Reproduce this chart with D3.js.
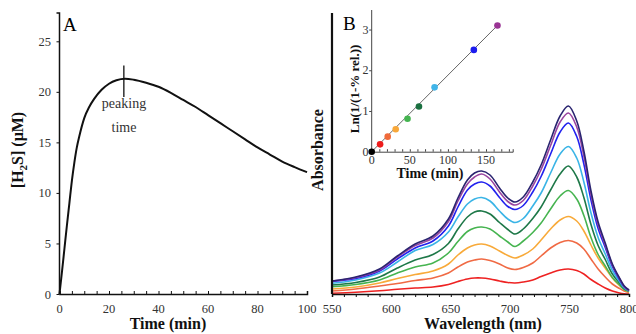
<!DOCTYPE html>
<html>
<head>
<meta charset="utf-8">
<script src="https://cdn.jsdelivr.net/npm/d3@7"></script>
<style>
  body { margin: 0; background: #fff; }
  svg, svg text { font-family: "Liberation Serif", "Times New Roman", "DejaVu Serif", serif; }
  .tick-label { font-size: 12.5px; fill: #333; }
  .axis-title { font-weight: bold; font-size: 16px; fill: #111; }
</style>
</head>
<body>
<svg id="viz" width="636" height="334" font-family="Liberation Serif, serif"></svg>
<script>
// Panel A: H2S release curve
const timeA = [0, 1, 2, 3, 4, 5, 6, 7, 8, 10, 12, 14, 17, 20, 23, 26.5, 30, 35, 40, 45, 50, 55, 60, 65, 70, 75, 80, 85, 90, 95, 100];
const h2sA  = [0, 2.2, 4.5, 6.8, 9.0, 11.2, 13.0, 14.5, 15.6, 17.4, 18.5, 19.3, 20.2, 20.8, 21.15, 21.3, 21.2, 20.9, 20.5, 19.9, 19.2, 18.5, 17.7, 16.9, 16.1, 15.3, 14.5, 13.8, 13.1, 12.55, 12.05];
const peakTime = 26;
const peakSpan = [19.5, 22.6];
const ticksA_y = [0, 5, 10, 15, 20, 25];
const ticksA_x = [0, 20, 40, 60, 80, 100];

// Panel B: absorbance spectra
const wavelengths = [550, 570, 590, 605, 620, 635, 648, 656, 664, 670, 676, 683, 691, 698, 704, 711, 719, 726, 734, 742, 749, 756, 762, 768, 774, 780, 786, 792, 796, 800];
const absRed    = [.003,.007,.013,.019,.024,.028,.038,.050,.060,.064,.064,.060,.052,.046,.044,.048,.056,.070,.084,.096,.100,.094,.080,.058,.040,.024,.012,.004,.001,.000];
const absCoral  = [.012,.020,.032,.042,.054,.064,.084,.108,.128,.136,.140,.134,.120,.104,.098,.106,.124,.152,.184,.206,.214,.204,.180,.140,.100,.068,.040,.022,.012,.006];
const absOrange = [.020,.028,.044,.062,.078,.092,.120,.156,.184,.196,.200,.192,.172,.154,.144,.156,.180,.216,.260,.296,.310,.292,.252,.196,.144,.104,.064,.034,.018,.008];
const absGreen  = [.029,.038,.056,.084,.108,.124,.164,.210,.250,.264,.268,.260,.232,.208,.190,.212,.246,.284,.340,.392,.414,.380,.314,.226,.158,.112,.066,.036,.018,.010];
const absDkGreen= [.036,.046,.068,.104,.136,.158,.202,.260,.308,.328,.332,.320,.286,.258,.240,.260,.302,.348,.416,.480,.512,.468,.386,.278,.194,.138,.080,.044,.022,.012];
const absSky    = [.043,.056,.084,.128,.174,.198,.248,.308,.360,.380,.386,.372,.332,.300,.286,.302,.352,.404,.484,.560,.590,.544,.448,.324,.226,.160,.094,.050,.024,.012];
const absBlue   = [.050,.062,.092,.140,.184,.212,.272,.348,.416,.440,.448,.432,.386,.350,.338,.354,.408,.470,.560,.648,.684,.630,.520,.376,.262,.186,.110,.058,.028,.014];
const absPurple = [.052,.066,.096,.148,.194,.224,.290,.372,.440,.468,.480,.460,.408,.370,.356,.374,.432,.498,.594,.688,.724,.668,.552,.398,.278,.196,.116,.062,.030,.014];
const absNavy   = [.052,.068,.100,.152,.200,.232,.300,.384,.456,.484,.492,.476,.424,.384,.368,.388,.448,.516,.616,.712,.752,.692,.572,.412,.288,.204,.120,.064,.032,.016];
const spectraColors = ["#ee2222", "#f06a44", "#f8aa3a", "#46b450", "#1e7848", "#3ab4e6", "#2222ee", "#9a45a0", "#2a2470"];
const ticksB_x = [550, 600, 650, 700, 750, 800];

// Inset: linearised kinetics
const insetTime = [0, 11, 21, 31.5, 47, 62, 82.5, 134, 165];
const insetLn   = [0, 0.18, 0.37, 0.55, 0.81, 1.11, 1.58, 2.5, 3.1];
const insetColors = ["#000000", "#ee1c1c", "#f06a3a", "#f8a83a", "#44b450", "#1a7040", "#40b4e8", "#1c1cee", "#9a3494"];
const fitTime = [0, 165];
const fitLn   = [0, 3.1];
const insetTicksX = [0, 50, 100, 150];
const insetTicksY = [0, 1, 2, 3];

const svg = d3.select("#viz");

// ---------- Panel A ----------
const xA = d3.scaleLinear().domain([0, 100]).range([59.5, 307]);
const yA = d3.scaleLinear().domain([0, 27.8]).range([294, 13]);
const gA = svg.append("g");

gA.append("path")
    .attr("d", d3.line().x(d => xA(d[0])).y(d => yA(d[1])).curve(d3.curveMonotoneX)(timeA.map((t, i) => [t, h2sA[i]])))
    .attr("fill", "none")
    .attr("stroke", "#111")
    .attr("stroke-width", 2);

// x axis with small inward ticks every 5 min
gA.append("g")
    .attr("transform", `translate(0,${yA(0)})`)
    .call(d3.axisBottom(xA).tickValues(d3.range(0, 101, 5)).tickSize(-3).tickFormat(""))
    .call(g => g.select(".domain").attr("stroke", "#111").attr("stroke-width", 1.5))
    .call(g => g.selectAll(".tick line").attr("stroke", "#111"));
gA.selectAll(".xlabA")
    .data(ticksA_x)
    .enter().append("text")
    .attr("class", "tick-label")
    .attr("x", d => xA(d))
    .attr("y", 313)
    .attr("text-anchor", "middle")
    .text(d => d);

gA.append("g")
    .attr("transform", `translate(${xA(0)},0)`)
    .call(d3.axisLeft(yA).tickValues(ticksA_y).tickSize(3).tickFormat(""))
    .call(g => g.select(".domain").attr("stroke", "#111").attr("stroke-width", 1.5).attr("d", `M-3,${yA(27.8)}H0V${yA(0)}`))
    .call(g => g.selectAll(".tick line").attr("stroke", "#111"));
gA.selectAll(".ylabA")
    .data(ticksA_y)
    .enter().append("text")
    .attr("class", "tick-label")
    .attr("x", 51)
    .attr("y", d => yA(d) + 4.5)
    .attr("text-anchor", "end")
    .text(d => d);

// peaking time marker
gA.append("line")
    .attr("x1", xA(peakTime)).attr("x2", xA(peakTime))
    .attr("y1", yA(peakSpan[0])).attr("y2", yA(peakSpan[1]))
    .attr("stroke", "#111").attr("stroke-width", 1.3);
gA.append("text").attr("class", "tick-label").style("font-size", "14px")
    .attr("x", 124).attr("y", 108).attr("text-anchor", "middle").text("peaking");
gA.append("text").attr("class", "tick-label").style("font-size", "14px")
    .attr("x", 124).attr("y", 132).attr("text-anchor", "middle").text("time");

gA.append("text").attr("x", 63).attr("y", 31).style("font-size", "19px").text("A");
gA.append("text").attr("class", "axis-title")
    .attr("x", 168).attr("y", 329).attr("text-anchor", "middle").text("Time (min)");
const yTitleA = gA.append("text").attr("class", "axis-title")
    .attr("transform", "translate(23,150) rotate(-90)")
    .attr("text-anchor", "middle");
yTitleA.append("tspan").text("[H");
yTitleA.append("tspan").attr("dy", 4).style("font-size", "11px").text("2");
yTitleA.append("tspan").attr("dy", -4).text("S] (μM)");

// ---------- Panel B ----------
const xB = d3.scaleLinear().domain([550, 800]).range([332, 629]);
const yB = d3.scaleLinear().domain([0, 1.124]).range([294, 13]);
const gB = svg.append("g");

const spectra = [absRed, absCoral, absOrange, absGreen, absDkGreen, absSky, absBlue, absPurple, absNavy];
const specLine = d3.line().x(d => xB(d[0])).y(d => yB(d[1])).curve(d3.curveCatmullRom.alpha(0.5));
gB.selectAll(".spec")
    .data(spectra)
    .enter().append("path")
    .attr("class", "spec")
    .attr("d", s => specLine(wavelengths.map((w, i) => [w, s[i]])))
    .attr("fill", "none")
    .attr("stroke", (s, i) => spectraColors[i])
    .attr("stroke-width", 1.6);

gB.append("g")
    .attr("transform", `translate(0,${yB(0)})`)
    .call(d3.axisBottom(xB).tickValues(d3.range(550, 801, 10)).tickSize(3).tickFormat(""))
    .call(g => g.select(".domain").attr("stroke", "#111").attr("stroke-width", 1.5))
    .call(g => g.selectAll(".tick line").attr("stroke", "#111"));
gB.selectAll(".xlabB")
    .data(ticksB_x)
    .enter().append("text")
    .attr("class", "tick-label")
    .attr("x", d => xB(d))
    .attr("y", 313)
    .attr("text-anchor", "middle")
    .text(d => d);
gB.append("line")
    .attr("x1", xB(550)).attr("x2", xB(550))
    .attr("y1", yB(0)).attr("y2", yB(1.124))
    .attr("stroke", "#111").attr("stroke-width", 2.2);

gB.append("text").attr("x", 343).attr("y", 30).style("font-size", "19px").text("B");
gB.append("text").attr("class", "axis-title")
    .attr("x", 483).attr("y", 329).attr("text-anchor", "middle").text("Wavelength (nm)");
gB.append("text").attr("class", "axis-title")
    .attr("transform", "translate(323,150) rotate(-90)")
    .attr("text-anchor", "middle").text("Absorbance");

// ---------- Inset ----------
const xI = d3.scaleLinear().domain([0, 185]).range([371.7, 512.7]);
const yI = d3.scaleLinear().domain([0, 3.48]).range([151.7, 10]);
const gI = svg.append("g");

gI.append("g")
    .attr("transform", `translate(0,${yI(0)})`)
    .call(d3.axisBottom(xI).tickValues(d3.range(0, 181, 10)).tickSize(-2.5).tickFormat(""))
    .call(g => g.select(".domain").attr("stroke", "#444").attr("stroke-width", 1))
    .call(g => g.selectAll(".tick line").attr("stroke", "#444"));
gI.append("g")
    .attr("transform", `translate(${xI(0)},0)`)
    .call(d3.axisLeft(yI).tickValues(insetTicksY).tickSize(2.5).tickFormat(""))
    .call(g => g.select(".domain").attr("stroke", "#444").attr("stroke-width", 1).attr("d", `M0,${yI(3.48)}V${yI(0)}`))
    .call(g => g.selectAll(".tick line").attr("stroke", "#444"));
gI.selectAll(".xlabI")
    .data(insetTicksX)
    .enter().append("text")
    .attr("class", "tick-label").style("font-size", "12px")
    .attr("x", d => xI(d)).attr("y", 164)
    .attr("text-anchor", "middle").text(d => d);
gI.selectAll(".ylabI")
    .data(insetTicksY)
    .enter().append("text")
    .attr("class", "tick-label").style("font-size", "12px")
    .attr("x", 368.5).attr("y", d => yI(d) + 4)
    .attr("text-anchor", "end").text(d => d);

gI.append("path")
    .attr("d", d3.line().x(d => xI(d[0])).y(d => yI(d[1]))(fitTime.map((t, i) => [t, fitLn[i]])))
    .attr("stroke", "#666").attr("stroke-width", 1).attr("fill", "none");
gI.selectAll(".pt")
    .data(insetTime)
    .enter().append("circle")
    .attr("class", "pt")
    .attr("cx", d => xI(d))
    .attr("cy", (d, i) => yI(insetLn[i]))
    .attr("r", 3.3)
    .attr("fill", (d, i) => insetColors[i]);

gI.append("text").attr("class", "axis-title").style("font-size", "14px")
    .attr("x", 430).attr("y", 178).attr("text-anchor", "middle").text("Time (min)");
gI.append("text").attr("class", "axis-title").style("font-size", "13px")
    .attr("transform", "translate(359,89) rotate(-90)")
    .attr("text-anchor", "middle").text("Ln(1/(1-% rel.))");
</script>
</body>
</html>
